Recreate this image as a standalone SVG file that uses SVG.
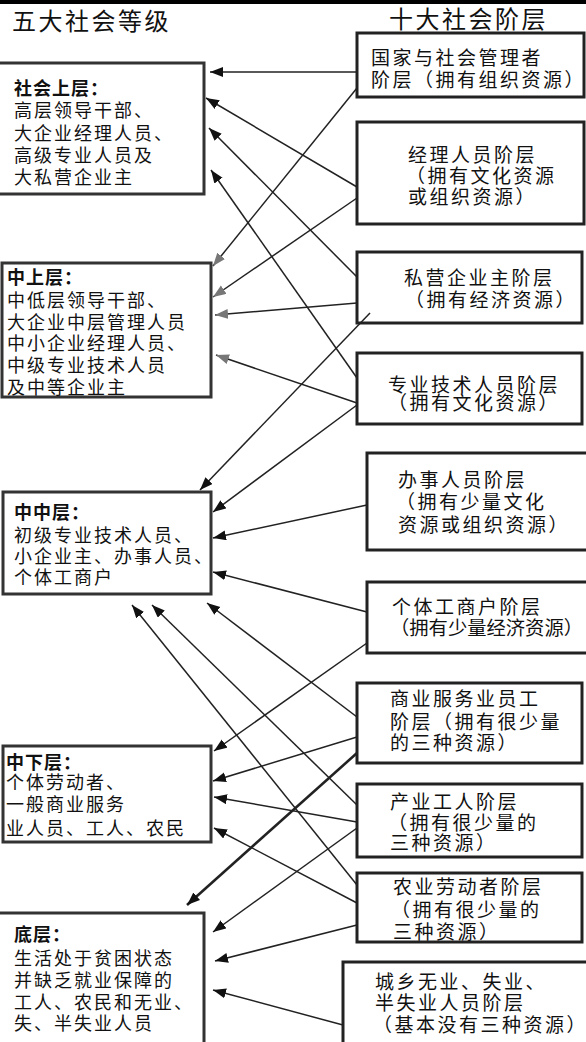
<svg xmlns="http://www.w3.org/2000/svg" width="586" height="1042" viewBox="0 0 586 1042">
<style>
text{font-family:"Noto Sans CJK SC","Noto Sans",sans-serif;fill:#111}
.t{font-size:24px;letter-spacing:2.5px}
.h{font-size:18px;font-weight:bold;letter-spacing:1px}
.l{font-size:18px;letter-spacing:2px}
.r{font-size:19px;letter-spacing:2.5px}
.bl{fill:#fff;stroke:#333;stroke-width:3}
.br{fill:#fff;stroke:#222;stroke-width:3}
.c{stroke:#222;stroke-width:1.5;fill:none;marker-end:url(#ab)}
.g{marker-end:url(#ag)}
.k{stroke-width:2.6}
</style>
<defs>
<marker id="ab" markerUnits="userSpaceOnUse" markerWidth="14" markerHeight="11" refX="13" refY="5" orient="auto"><path d="M0,0 L13,5 L0,10 z" fill="#111"/></marker>
<marker id="ag" markerUnits="userSpaceOnUse" markerWidth="14" markerHeight="11" refX="13" refY="5" orient="auto"><path d="M0,0 L13,5 L0,10 z" fill="#777"/></marker>
</defs>
<rect x="0" y="0" width="586" height="1042" fill="#fff"/>
<rect x="0" y="0" width="586" height="4" fill="#000"/>
<text class="t" x="12" y="30">五大社会等级</text>
<text class="t" x="389" y="28">十大社会阶层</text>

<g id="L1"><rect class="bl" x="-3" y="63" width="207" height="131"/>
<text class="h" x="14" y="95">社会上层：</text>
<text class="l" x="14" y="117">高层领导干部、</text>
<text class="l" x="14" y="140">大企业经理人员、</text>
<text class="l" x="14" y="162">高级专业人员及</text>
<text class="l" x="14" y="184">大私营企业主</text></g>

<g id="L2"><rect class="bl" x="2" y="263" width="209" height="134"/>
<text class="h" x="7" y="284">中上层：</text>
<text class="l" x="7" y="307">中低层领导干部、</text>
<text class="l" x="7" y="329">大企业中层管理人员</text>
<text class="l" x="7" y="350">中小企业经理人员、</text>
<text class="l" x="7" y="372">中级专业技术人员</text>
<text class="l" x="7" y="394">及中等企业主</text></g>

<g id="L3"><rect class="bl" x="3" y="492" width="208" height="102"/>
<text class="h" x="14" y="519">中中层：</text>
<text class="l" x="14" y="542">初级专业技术人员、</text>
<text class="l" x="14" y="563">小企业主、办事人员、</text>
<text class="l" x="14" y="584">个体工商户</text></g>

<g id="L4"><rect class="bl" x="3" y="746" width="208" height="96"/>
<text class="h" x="6" y="769">中下层：</text>
<text class="l" x="6" y="789">个体劳动者、</text>
<text class="l" x="6" y="811">一般商业服务</text>
<text class="l" x="6" y="835">业人员、工人、农民</text></g>

<g id="L5"><rect class="bl" x="-3" y="913" width="207" height="140"/>
<text class="h" x="14" y="941">底层：</text>
<text class="l" x="14" y="965">生活处于贫困状态</text>
<text class="l" x="14" y="987">并缺乏就业保障的</text>
<text class="l" x="14" y="1009">工人、农民和无业、</text>
<text class="l" x="14" y="1030">失、半失业人员</text></g>

<g id="R1"><rect class="br" x="357" y="33" width="227" height="64"/>
<text class="r" x="371" y="65">国家与社会管理者</text>
<text class="r" x="371" y="87">阶层（拥有组织资源）</text></g>

<g id="R2"><rect class="br" x="357" y="122" width="227" height="102"/>
<text class="r" x="408" y="162">经理人员阶层</text>
<text class="r" x="406" y="183">（拥有文化资源</text>
<text class="r" x="408" y="204">或组织资源）</text></g>

<g id="R3"><rect class="br" x="357" y="252" width="225" height="71"/>
<text class="r" x="404" y="285">私营企业主阶层</text>
<text class="r" x="405" y="307">（拥有经济资源）</text></g>

<g id="R4"><rect class="br" x="357" y="353" width="225" height="71"/>
<text class="r" x="388" y="392">专业技术人员阶层</text>
<text class="r" x="388" y="410">（拥有文化资源）</text></g>

<g id="R5"><rect class="br" x="367" y="453" width="222" height="97"/>
<text class="r" x="398" y="487">办事人员阶层</text>
<text class="r" x="396" y="509">（拥有少量文化</text>
<text class="r" x="398" y="532">资源或组织资源）</text></g>

<g id="R6"><rect class="br" x="367" y="582" width="222" height="71"/>
<text class="r" x="392" y="614">个体工商户阶层</text>
<text class="r" x="390" y="635" textLength="193" lengthAdjust="spacingAndGlyphs" style="letter-spacing:0">（拥有少量经济资源）</text></g>

<g id="R7"><rect class="br" x="357" y="683" width="225" height="80"/>
<text class="r" x="390" y="706">商业服务业员工</text>
<text class="r" x="390" y="729">阶层（拥有很少量</text>
<text class="r" x="390" y="750">的三种资源）</text></g>

<g id="R8"><rect class="br" x="357" y="784" width="225" height="73"/>
<text class="r" x="390" y="809">产业工人阶层</text>
<text class="r" x="388" y="830">（拥有很少量的</text>
<text class="r" x="390" y="850">三种资源）</text></g>

<g id="R9"><rect class="br" x="357" y="873" width="225" height="69"/>
<text class="r" x="393" y="894">农业劳动者阶层</text>
<text class="r" x="391" y="917">（拥有很少量的</text>
<text class="r" x="393" y="939">三种资源）</text></g>

<g id="R10"><rect class="br" x="343" y="962" width="250" height="90"/>
<text class="r" x="375" y="989">城乡无业、失业、</text>
<text class="r" x="375" y="1010">半失业人员阶层</text>
<text class="r" x="373" y="1032">（基本没有三种资源）</text></g>

<g id="connectors">
<line class="c" x1="357" y1="72" x2="210" y2="72"/>
<line class="c g" x1="357" y1="88" x2="213" y2="266"/>
<line class="c" x1="357" y1="187" x2="206" y2="98"/>
<line class="c g" x1="357" y1="198" x2="213" y2="297"/>
<line class="c" x1="357" y1="277" x2="209" y2="128"/>
<line class="c g" x1="357" y1="303" x2="215" y2="315"/>
<line class="c" x1="370" y1="313" x2="200" y2="490"/>
<line class="c" x1="357" y1="378" x2="211" y2="170"/>
<line class="c g" x1="357" y1="403" x2="216" y2="355"/>
<line class="c" x1="357" y1="405" x2="213" y2="512"/>
<line class="c" x1="367" y1="505" x2="213" y2="538"/>
<line class="c" x1="367" y1="612" x2="213" y2="572"/>
<line class="c" x1="367" y1="643" x2="214" y2="751"/>
<line class="c" x1="357" y1="717" x2="207" y2="603"/>
<line class="c" x1="357" y1="737" x2="213" y2="781"/>
<line class="c k" x1="357" y1="753" x2="187" y2="905"/>
<line class="c" x1="357" y1="805" x2="152" y2="605"/>
<line class="c" x1="357" y1="822" x2="214" y2="797"/>
<line class="c" x1="357" y1="828" x2="213" y2="932"/>
<line class="c" x1="357" y1="885" x2="132" y2="605"/>
<line class="c" x1="357" y1="903" x2="214" y2="828"/>
<line class="c" x1="357" y1="925" x2="215" y2="961"/>
<line class="c" x1="343" y1="1025" x2="213" y2="990"/>
</g>
</svg>
